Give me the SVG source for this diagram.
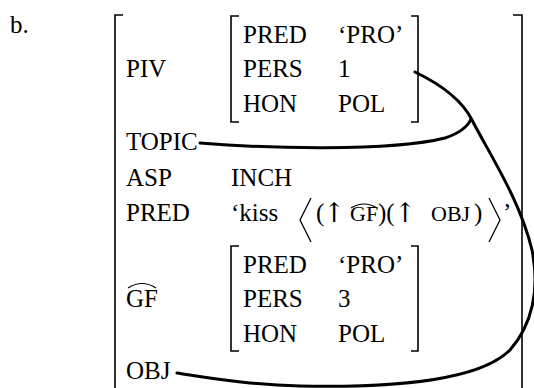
<svg xmlns="http://www.w3.org/2000/svg" width="534" height="388" viewBox="0 0 534 388" font-family="'Liberation Serif', 'Times New Roman', serif">
<style>
text{font-family:'Liberation Serif','Times New Roman',serif;font-size:25px;fill:#000}
.sm{font-size:22px}
.ar{font-family:'DejaVu Serif','Liberation Serif',serif;font-size:27px}
.br{fill:none;stroke:#000;stroke-width:1.6}
.cv{fill:none;stroke:#000;stroke-width:3;stroke-linecap:round}
.hat{fill:none;stroke:#000;stroke-width:1.2}
.ang{fill:none;stroke:#000;stroke-width:1.3}
</style>
<rect width="534" height="388" fill="#fff"/>
<text x="10" y="33">b.</text>
<g id="fs-main">
  <path class="br" d="M123,15 H115 V388 M513,15 H522 V388"/>
  <text x="126" y="77">PIV</text>
  <text x="126" y="150">TOPIC</text>
  <text x="126" y="186">ASP</text>
  <text x="231" y="186">INCH</text>
  <text x="126" y="221">PRED</text>
  <text x="231" y="221">‘kiss</text>
  <path class="ang" d="M311,198 L300,220 L311,242 M489,198 L500,220 L489,242"/>
  <text x="316" y="221">(</text>
  <text class="ar" x="323" y="222">↑</text>
  <text class="sm" x="350" y="221">GF</text>
  <path class="hat" d="M351,208 Q364,200 377,208"/>
  <text x="378" y="221">)(</text>
  <text class="ar" x="394" y="222">↑</text>
  <text class="sm" x="431" y="221">OBJ</text>
  <text x="474" y="221">)</text>
  <text x="503" y="221">’</text>
  <text x="126" y="307">GF</text>
  <path class="hat" d="M128,288 Q142,279 156,288"/>
  <text x="126" y="379">OBJ</text>
</g>
<g id="fs-piv">
  <path class="br" d="M239,16 H231 V122 H239 M411,16 H418 V122 H411"/>
  <text x="243" y="43">PRED</text><text x="338" y="43">‘PRO’</text>
  <text x="243" y="77">PERS</text><text x="338" y="77">1</text>
  <text x="243" y="112">HON</text><text x="338" y="112">POL</text>
</g>
<g id="fs-gf">
  <path class="br" d="M239,246 H231 V351 H239 M411,246 H418 V351 H411"/>
  <text x="243" y="273">PRED</text><text x="338" y="273">‘PRO’</text>
  <text x="243" y="307">PERS</text><text x="338" y="307">3</text>
  <text x="243" y="342">HON</text><text x="338" y="342">POL</text>
</g>
<g id="connectors">
  <path class="cv" d="M415,72 C440,84 462,100 472,120 C490,155 520,200 532,250 C540,290 532,325 510,350 C480,380 400,388 300,386 C250,385 210,378 177,373"/>
  <path class="cv" d="M200,143 C260,148 390,152 445,138 C460,133 468,126 471,119"/>
</g>
</svg>
